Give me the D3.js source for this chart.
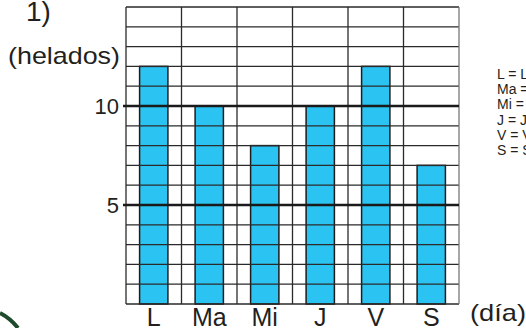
<!DOCTYPE html>
<html>
<head>
<meta charset="utf-8">
<script src="https://cdn.jsdelivr.net/npm/d3@7"></script>
<style>
  body { margin: 0; background: #fff; }
  svg { display: block; font-family: "Liberation Sans", Arial, sans-serif; }
</style>
</head>
<body>
<svg width="526" height="328"></svg>
<script>
// data
var dias = ["L", "Ma", "Mi", "J", "V", "S"];
var helados = [12, 10, 8, 10, 12, 7];
var yTicks = [5, 10];
var leyenda = ["L = Lunes", "Ma = Martes", "Mi = Miércoles", "J = Jueves", "V = Viernes", "S = Sábado"];

var svg = d3.select("svg");

var gLeft = 126, gRight = 459, gTop = 7, gBottom = 304;

var xCol = d3.scaleBand().domain(dias).range([gLeft, gRight]).padding(0);
var xBar = d3.scaleBand().domain(dias).range([gLeft, gRight])
    .paddingInner(0.49).paddingOuter(0.245);
var yScale = d3.scaleLinear().domain([0, 15]).range([gBottom, gTop]);

// bars first, grid goes over them
svg.selectAll(".bar")
   .data(helados)
   .enter().append("rect")
   .attr("class", "bar")
   .attr("x", function(d, i) { return xBar(dias[i]); })
   .attr("y", function(d) { return yScale(d); })
   .attr("width", xBar.bandwidth())
   .attr("height", function(d) { return yScale(0) - yScale(d); })
   .attr("fill", "#2bc4f2")
   .attr("stroke", "#1d1d1d")
   .attr("stroke-width", 1.5);

var g = svg.append("g");

// horizontal lines, one per unit
g.selectAll(".hline")
 .data(d3.range(0, 16))
 .enter().append("line")
 .attr("x1", gLeft).attr("x2", gRight)
 .attr("y1", function(d) { return yScale(d); })
 .attr("y2", function(d) { return yScale(d); })
 .attr("stroke", "#2a2a2a")
 .attr("stroke-width", 1.3);

// column lines
var colEdges = dias.map(function(d) { return xCol(d); }).concat([gRight]);
g.selectAll(".vline")
 .data(colEdges)
 .enter().append("line")
 .attr("x1", function(d) { return d; }).attr("x2", function(d) { return d; })
 .attr("y1", gTop).attr("y2", gBottom)
 .attr("stroke", function(d, i) { return i == colEdges.length - 1 ? "#777" : "#2a2a2a"; })
 .attr("stroke-width", 1.3);

// thick lines at 5 and 10
g.selectAll(".tick")
 .data(yTicks)
 .enter().append("line")
 .attr("x1", gLeft - 3).attr("x2", gRight)
 .attr("y1", function(d) { return yScale(d); })
 .attr("y2", function(d) { return yScale(d); })
 .attr("stroke", "#1a1a1a")
 .attr("stroke-width", 2.6);

svg.selectAll(".ylab")
   .data(yTicks)
   .enter().append("text")
   .attr("x", 119)
   .attr("y", function(d) { return yScale(d) + 8; })
   .attr("text-anchor", "end")
   .attr("font-size", "22px")
   .attr("fill", "#231f20")
   .text(function(d) { return d; });

svg.selectAll(".xlab")
   .data(dias)
   .enter().append("text")
   .attr("x", function(d) { return xCol(d) + xCol.bandwidth() / 2; })
   .attr("y", 326)
   .attr("text-anchor", "middle")
   .attr("font-size", "25px")
   .attr("fill", "#231f20")
   .text(function(d) { return d; });

svg.append("text")
   .attr("x", 26).attr("y", 21)
   .attr("font-size", "28px")
   .attr("fill", "#231f20")
   .text("1)");

svg.append("text")
   .attr("x", 8).attr("y", 64)
   .attr("font-size", "24px")
   .attr("textLength", 112)
   .attr("lengthAdjust", "spacingAndGlyphs")
   .attr("fill", "#231f20")
   .text("(helados)");

svg.append("text")
   .attr("x", 470).attr("y", 321)
   .attr("font-size", "24px")
   .attr("textLength", 56)
   .attr("lengthAdjust", "spacingAndGlyphs")
   .attr("fill", "#231f20")
   .text("(día)");

svg.selectAll(".ley")
   .data(leyenda)
   .enter().append("text")
   .attr("x", 497)
   .attr("y", function(d, i) { return 79 + i * 15.2; })
   .attr("font-size", "14px")
   .attr("fill", "#231f20")
   .text(function(d) { return d; });

// green corner stroke at bottom left
svg.append("path")
   .attr("d", "M0,313 Q10,318 18,328")
   .attr("fill", "none")
   .attr("stroke", "#1f4a2c")
   .attr("stroke-width", 4);
</script>
</body>
</html>
